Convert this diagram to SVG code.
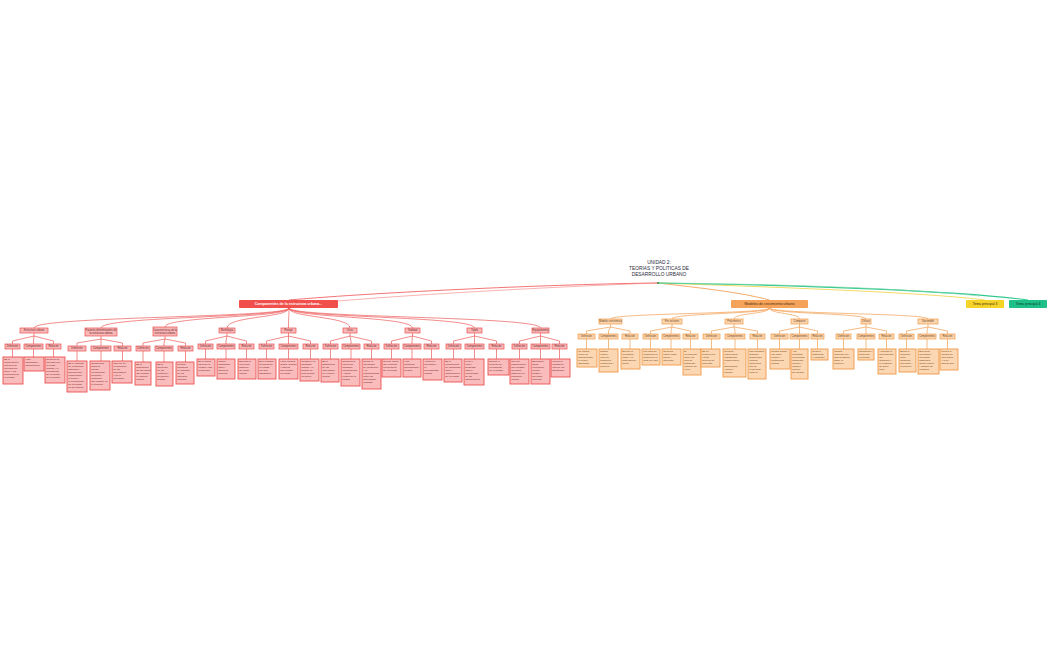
<svg xmlns="http://www.w3.org/2000/svg" width="1050" height="650" viewBox="0 0 1050 650">
<defs>
<pattern id="hr" width="2" height="2" patternUnits="userSpaceOnUse" patternTransform="rotate(45)"><rect width="2" height="2" fill="#fbc3c3"/><line x1="0" y1="0" x2="0" y2="2" stroke="#f39494" stroke-width=".6"/></pattern>
<pattern id="ho" width="2" height="2" patternUnits="userSpaceOnUse" patternTransform="rotate(45)"><rect width="2" height="2" fill="#fcdcbc"/><line x1="0" y1="0" x2="0" y2="2" stroke="#f6b878" stroke-width=".6"/></pattern>
</defs>
<style>
.rb{fill:#f9b8b8;stroke:#ec5050;stroke-width:.7}
.rl{fill:url(#hr);stroke:#ec5050;stroke-width:.9}
.ob{fill:#fcd6b0;stroke:#f09a48;stroke-width:.7}
.ol{fill:url(#ho);stroke:#f09a48;stroke-width:.9}
.rc{fill:none;stroke:#ee5a5a;stroke-width:.7}
.oc{fill:none;stroke:#f29e50;stroke-width:.7}
text{font-family:"Liberation Sans",Arial,sans-serif}
.t{font-size:2.5px;fill:#6e1c1c}
.to{font-size:2.5px;fill:#6e3c0e}
.c{text-anchor:middle;font-size:2.6px}
</style>
<rect width="1050" height="650" fill="#ffffff"/>
<g id="connectors">
<path d="M658,283 C560,284 380,292 289,300" fill="none" stroke="#f05050" stroke-width=".8"/>
<path d="M658,283 C570,286 420,294 338,301" fill="none" stroke="#f58080" stroke-width=".6"/>
<path d="M658,283 C700,288 740,292 769.5,300" fill="none" stroke="#f3a35c" stroke-width=".9"/>
<path d="M658,283 C800,288 930,293 985,300" fill="none" stroke="#f0d040" stroke-width=".8"/>
<path d="M658,283 C800,285 960,291 1028,300" fill="none" stroke="#30c890" stroke-width="1.1"/>
<path d="M658,283 C780,284 900,288 980,296" fill="none" stroke="#7fd9a8" stroke-width=".6"/>
<g class="rc">
<path d="M289,308 C289,318 34,316 34,328"/>
<path d="M289,308 C289,318 101,316 101,328"/>
<path d="M289,308 C289,318 165,316 165,327"/>
<path d="M289,308 C289,318 227,316 227,328"/>
<path d="M289,308 C289,318 288.5,316 288.5,328"/>
<path d="M289,308 C289,318 350,316 350,328"/>
<path d="M289,308 C289,318 412.5,316 412.5,328"/>
<path d="M289,308 C289,318 474.5,316 474.5,328"/>
<path d="M289,308 C289,318 540.5,316 540.5,328"/>
<path d="M34,333 V336 L12.5,341 V344 M34,336 L33.5,341 V344 M34,336 L53.5,341 V344"/>
<path d="M101,336 V339 L77,343 V346 M101,339 V346 M101,339 L122.5,343 V346"/>
<path d="M165,336 V339 L143,343 V346 M165,339 L164,343 V346 M165,339 L185.5,343 V346"/>
<path d="M227,333 V336 L205.5,341 V344 M227,336 L226,341 V344 M227,336 L246.5,341 V344"/>
<path d="M288.5,333 V336 L266.5,341 V344 M288.5,336 V344 M288.5,336 L310.5,341 V344"/>
<path d="M350,333 V336 L330.5,341 V344 M350,336 L351,341 V344 M350,336 L371.5,341 V344"/>
<path d="M412.5,333 V336 L391.5,341 V344 M412.5,336 L412,341 V344 M412.5,336 L431.5,341 V344"/>
<path d="M474.5,333 V336 L453.5,341 V344 M474.5,336 V344 M474.5,336 L496.5,341 V344"/>
<path d="M540.5,333 V336 L519.5,341 V344 M540.5,336 V344 M540.5,336 L559.5,341 V344"/>
<path d="M12.5,349 V357 M33.5,349 V357 M53.5,349 V357 M77,351 V361 M101,351 V361 M122.5,351 V361 M143,351 V362 M164,351 V362 M185.5,351 V362 M205.5,349 V359 M226,349 V359 M246.5,349 V359 M266.5,349 V359 M288.5,349 V359 M310.5,349 V359 M330.5,349 V359 M351,349 V359 M371.5,349 V359 M391.5,349 V359 M412,349 V359 M431.5,349 V359 M453.5,349 V359 M474.5,349 V359 M496.5,349 V359 M519.5,349 V359 M540.5,349 V359 M559.5,349 V359"/>
</g>
<g class="oc">
<path d="M769.5,308 C769.5,314 610.5,313 610.5,319"/>
<path d="M769.5,308 C769.5,314 672,313 672,319"/>
<path d="M769.5,308 C769.5,314 734,313 734,319"/>
<path d="M769.5,308 C769.5,314 799.5,313 799.5,319"/>
<path d="M769.5,308 C769.5,314 866,313 866,319"/>
<path d="M769.5,308 C769.5,314 928,313 928,319"/>
<path d="M610.5,324 V327 L586.5,331 V334 M610.5,327 L608.5,331 V334 M610.5,327 L630,331 V334"/>
<path d="M672,324 V327 L650.5,331 V334 M672,327 L671,331 V334 M672,327 L690.5,331 V334"/>
<path d="M734,324 V327 L711.5,331 V334 M734,327 L735,331 V334 M734,327 L757.5,331 V334"/>
<path d="M799.5,324 V327 L779.5,331 V334 M799.5,327 V334 M799.5,327 L817.5,331 V334"/>
<path d="M866,324 V327 L843.5,331 V334 M866,327 V334 M866,327 L886.5,331 V334"/>
<path d="M928,324 V327 L906.5,331 V334 M928,327 L927,331 V334 M928,327 L947.5,331 V334"/>
<path d="M586.5,339 V349 M608.5,339 V349 M630,339 V349 M650.5,339 V349 M671,339 V349 M690.5,339 V349 M711.5,339 V349 M735,339 V349 M757.5,339 V349 M779.5,339 V349 M799.5,339 V349 M817.5,339 V349 M843.5,339 V349 M866,339 V349 M886.5,339 V349 M906.5,339 V349 M927,339 V349 M947.5,339 V349"/>
</g>
</g>
<g id="root">
<text x="659" y="264" text-anchor="middle" font-size="4.8" fill="#2a2a3a">UNIDAD 2:</text>
<text x="659" y="270" text-anchor="middle" font-size="4.8" fill="#2a2a3a">TEORIAS Y POLITICAS DE</text>
<text x="659" y="276" text-anchor="middle" font-size="4.8" fill="#2a2a3a">DESARROLLO URBANO</text>
<circle cx="658" cy="283" r=".9" fill="#2a8a4a"/>
</g>
<g id="main-red"><rect x="239" y="300" width="99" height="8" rx="1" fill="#f04f4b"/><text x="288.5" y="305.2" text-anchor="middle" font-size="3.6" font-weight="bold" fill="#ffffff">Componentes de la estructura urbana...</text></g>
<g id="main-orange"><rect x="731" y="300" width="77" height="8" rx="1" fill="#f5a35a"/><text x="769.5" y="305.2" text-anchor="middle" font-size="3.6" fill="#4a2a10">Modelos de crecimiento urbano</text></g>
<g id="main-3"><rect x="966" y="300" width="38" height="8" rx="1" fill="#f5d329"/><text x="985" y="305.2" text-anchor="middle" font-size="3.4" fill="#3a3010">Tema principal 3</text></g>
<g id="main-4"><rect x="1009" y="300" width="38" height="8" rx="1" fill="#1fbf88"/><text x="1028" y="305.2" text-anchor="middle" font-size="3.4" fill="#0e3a2a">Tema principal 4</text></g>

<g id="b1"><rect class="rb" x="20" y="328" width="28" height="5"/><text class="t c" x="34" y="331.4">Estructura urbana</text></g>
<g id="b2"><rect class="rb" x="85" y="328" width="32" height="8"/><text class="t c" x="101" y="331.2">Factores determinantes de</text><text class="t c" x="101" y="334.4">la estructura urbana</text></g>
<g id="b3"><rect class="rb" x="153" y="327" width="24" height="9"/><text class="t c" x="165" y="330.8">Características de la</text><text class="t c" x="165" y="334">estructura urbana</text></g>
<g id="b4"><rect class="rb" x="219" y="328" width="16" height="5"/><text class="t c" x="227" y="331.4">Morfología</text></g>
<g id="b5"><rect class="rb" x="281" y="328" width="15" height="5"/><text class="t c" x="288.5" y="331.4">Paisaje</text></g>
<g id="b6"><rect class="rb" x="343" y="328" width="14" height="5"/><text class="t c" x="350" y="331.4">Usos</text></g>
<g id="b7"><rect class="rb" x="405" y="328" width="15" height="5"/><text class="t c" x="412.5" y="331.4">Vialidad</text></g>
<g id="b8"><rect class="rb" x="467" y="328" width="15" height="5"/><text class="t c" x="474.5" y="331.4">Tejido</text></g>
<g id="b9"><rect class="rb" x="532" y="328" width="17" height="5"/><text class="t c" x="540.5" y="331.4">Equipamiento</text></g>

<g id="b1-c"><rect class="rb" x="5" y="344" width="15" height="5"/><text class="t c" x="12.5" y="347.4">Definición</text><rect class="rb" x="24" y="344" width="19" height="5"/><text class="t c" x="33.5" y="347.4">Componentes</text><rect class="rb" x="46" y="344" width="15" height="5"/><text class="t c" x="53.5" y="347.4">Relación</text></g>
<g id="b2-c"><rect class="rb" x="68" y="346" width="18" height="5"/><text class="t c" x="77" y="349.4">Definición</text><rect class="rb" x="91" y="346" width="20" height="5"/><text class="t c" x="101" y="349.4">Componentes</text><rect class="rb" x="114" y="346" width="17" height="5"/><text class="t c" x="122.5" y="349.4">Relación</text></g>
<g id="b3-c"><rect class="rb" x="136" y="346" width="14" height="5"/><text class="t c" x="143" y="349.4">Definición</text><rect class="rb" x="155" y="346" width="18" height="5"/><text class="t c" x="164" y="349.4">Componentes</text><rect class="rb" x="178" y="346" width="15" height="5"/><text class="t c" x="185.5" y="349.4">Relación</text></g>
<g id="b4-c"><rect class="rb" x="198" y="344" width="15" height="5"/><text class="t c" x="205.5" y="347.4">Definición</text><rect class="rb" x="217" y="344" width="18" height="5"/><text class="t c" x="226" y="347.4">Componentes</text><rect class="rb" x="239" y="344" width="15" height="5"/><text class="t c" x="246.5" y="347.4">Relación</text></g>
<g id="b5-c"><rect class="rb" x="259" y="344" width="15" height="5"/><text class="t c" x="266.5" y="347.4">Definición</text><rect class="rb" x="279" y="344" width="19" height="5"/><text class="t c" x="288.5" y="347.4">Componentes</text><rect class="rb" x="303" y="344" width="15" height="5"/><text class="t c" x="310.5" y="347.4">Relación</text></g>
<g id="b6-c"><rect class="rb" x="323" y="344" width="15" height="5"/><text class="t c" x="330.5" y="347.4">Definición</text><rect class="rb" x="342" y="344" width="18" height="5"/><text class="t c" x="351" y="347.4">Componentes</text><rect class="rb" x="364" y="344" width="15" height="5"/><text class="t c" x="371.5" y="347.4">Relación</text></g>
<g id="b7-c"><rect class="rb" x="384" y="344" width="15" height="5"/><text class="t c" x="391.5" y="347.4">Definición</text><rect class="rb" x="403" y="344" width="18" height="5"/><text class="t c" x="412" y="347.4">Componentes</text><rect class="rb" x="424" y="344" width="15" height="5"/><text class="t c" x="431.5" y="347.4">Relación</text></g>
<g id="b8-c"><rect class="rb" x="446" y="344" width="15" height="5"/><text class="t c" x="453.5" y="347.4">Definición</text><rect class="rb" x="465" y="344" width="19" height="5"/><text class="t c" x="474.5" y="347.4">Componentes</text><rect class="rb" x="489" y="344" width="15" height="5"/><text class="t c" x="496.5" y="347.4">Relación</text></g>
<g id="b9-c"><rect class="rb" x="512" y="344" width="15" height="5"/><text class="t c" x="519.5" y="347.4">Definición</text><rect class="rb" x="531" y="344" width="19" height="5"/><text class="t c" x="540.5" y="347.4">Componentes</text><rect class="rb" x="552" y="344" width="15" height="5"/><text class="t c" x="559.5" y="347.4">Relación</text></g>

<g id="l1a"><rect class="rl" x="3" y="357" width="20" height="27"/><text class="t" x="4.2" y="360.3">Es la<tspan x="4.2" dy="3">organización</tspan><tspan x="4.2" dy="3">espacial de</tspan><tspan x="4.2" dy="3">los usos del</tspan><tspan x="4.2" dy="3">suelo y las</tspan><tspan x="4.2" dy="3">relaciones de</tspan><tspan x="4.2" dy="3">la ciudad.</tspan></text></g>
<g id="l1b"><rect class="rl" x="24" y="357" width="20" height="14"/><text class="t" x="25.2" y="360.3">Vías,<tspan x="25.2" dy="3">manzanas y</tspan><tspan x="25.2" dy="3">edificaciones.</tspan></text></g>
<g id="l1c"><rect class="rl" x="45" y="357" width="20" height="26"/><text class="t" x="46.2" y="360.3">Relación de<tspan x="46.2" dy="3">los usos con</tspan><tspan x="46.2" dy="3">la forma</tspan><tspan x="46.2" dy="3">urbana y el</tspan><tspan x="46.2" dy="3">crecimiento</tspan><tspan x="46.2" dy="3">de la ciudad</tspan><tspan x="46.2" dy="3">en el tiempo.</tspan></text></g>

<g id="l2a"><rect class="rl" x="67" y="361" width="20" height="31"/><text class="t" x="68.2" y="364.3">Es el conjunto<tspan x="68.2" dy="3">de elementos</tspan><tspan x="68.2" dy="3">naturales y</tspan><tspan x="68.2" dy="3">sociales que</tspan><tspan x="68.2" dy="3">condicionan</tspan><tspan x="68.2" dy="3">la forma y</tspan><tspan x="68.2" dy="3">el crecimiento</tspan><tspan x="68.2" dy="3">de la ciudad</tspan><tspan x="68.2" dy="3">en su entorno.</tspan></text></g>
<g id="l2b"><rect class="rl" x="90" y="361" width="20" height="29"/><text class="t" x="91.2" y="364.3">Comprende<tspan x="91.2" dy="3">factores</tspan><tspan x="91.2" dy="3">físicos,</tspan><tspan x="91.2" dy="3">económicos,</tspan><tspan x="91.2" dy="3">políticos y</tspan><tspan x="91.2" dy="3">culturales</tspan><tspan x="91.2" dy="3">que inciden en</tspan><tspan x="91.2" dy="3">el territorio.</tspan></text></g>
<g id="l2c"><rect class="rl" x="112" y="361" width="20" height="22"/><text class="t" x="113.2" y="364.3">Influyen en<tspan x="113.2" dy="3">la ubicación</tspan><tspan x="113.2" dy="3">de las</tspan><tspan x="113.2" dy="3">actividades</tspan><tspan x="113.2" dy="3">y en la</tspan><tspan x="113.2" dy="3">movilidad.</tspan></text></g>

<g id="l3a"><rect class="rl" x="135" y="362" width="16" height="23"/><text class="t" x="136.2" y="365.3">Es la<tspan x="136.2" dy="3">disposición</tspan><tspan x="136.2" dy="3">de las partes</tspan><tspan x="136.2" dy="3">que forman</tspan><tspan x="136.2" dy="3">el espacio</tspan><tspan x="136.2" dy="3">urbano.</tspan></text></g>
<g id="l3b"><rect class="rl" x="156" y="362" width="17" height="24"/><text class="t" x="157.2" y="365.3">Es la<tspan x="157.2" dy="3">ubicación</tspan><tspan x="157.2" dy="3">de los</tspan><tspan x="157.2" dy="3">sectores y</tspan><tspan x="157.2" dy="3">su función</tspan><tspan x="157.2" dy="3">urbana.</tspan></text></g>
<g id="l3c"><rect class="rl" x="176" y="362" width="18" height="22"/><text class="t" x="177.2" y="365.3">Permite<tspan x="177.2" dy="3">identificar</tspan><tspan x="177.2" dy="3">la jerarquía</tspan><tspan x="177.2" dy="3">de los</tspan><tspan x="177.2" dy="3">espacios</tspan><tspan x="177.2" dy="3">urbanos.</tspan></text></g>

<g id="l4a"><rect class="rl" x="197" y="359" width="18" height="17"/><text class="t" x="198.2" y="362.3">Es la forma<tspan x="198.2" dy="3">física de la</tspan><tspan x="198.2" dy="3">ciudad y sus</tspan><tspan x="198.2" dy="3">elementos.</tspan></text></g>
<g id="l4b"><rect class="rl" x="217" y="359" width="18" height="20"/><text class="t" x="218.2" y="362.3">Trama,<tspan x="218.2" dy="3">manzanas,</tspan><tspan x="218.2" dy="3">lotes y</tspan><tspan x="218.2" dy="3">espacios</tspan><tspan x="218.2" dy="3">públicos.</tspan></text></g>
<g id="l4c"><rect class="rl" x="238" y="359" width="18" height="20"/><text class="t" x="239.2" y="362.3">Expresa la<tspan x="239.2" dy="3">evolución</tspan><tspan x="239.2" dy="3">histórica</tspan><tspan x="239.2" dy="3">del tejido</tspan><tspan x="239.2" dy="3">urbano.</tspan></text></g>

<g id="l5a"><rect class="rl" x="258" y="359" width="18" height="20"/><text class="t" x="259.2" y="362.3">Es la imagen<tspan x="259.2" dy="3">percibida de</tspan><tspan x="259.2" dy="3">la ciudad</tspan><tspan x="259.2" dy="3">por sus</tspan><tspan x="259.2" dy="3">habitantes.</tspan></text></g>
<g id="l5b"><rect class="rl" x="279" y="359" width="19" height="20"/><text class="t" x="280.2" y="362.3">Hitos, bordes,<tspan x="280.2" dy="3">nodos, sendas</tspan><tspan x="280.2" dy="3">y barrios</tspan><tspan x="280.2" dy="3">que forman</tspan><tspan x="280.2" dy="3">la ciudad.</tspan></text></g>
<g id="l5c"><rect class="rl" x="300" y="359" width="19" height="22"/><text class="t" x="301.2" y="362.3">Construye la<tspan x="301.2" dy="3">identidad</tspan><tspan x="301.2" dy="3">urbana y el</tspan><tspan x="301.2" dy="3">sentido de</tspan><tspan x="301.2" dy="3">pertenencia</tspan><tspan x="301.2" dy="3">colectiva.</tspan></text></g>

<g id="l6a"><rect class="rl" x="321" y="359" width="18" height="23"/><text class="t" x="322.2" y="362.3">Es la<tspan x="322.2" dy="3">distribución</tspan><tspan x="322.2" dy="3">de las</tspan><tspan x="322.2" dy="3">actividades</tspan><tspan x="322.2" dy="3">en el suelo</tspan><tspan x="322.2" dy="3">urbano.</tspan></text></g>
<g id="l6b"><rect class="rl" x="341" y="359" width="19" height="27"/><text class="t" x="342.2" y="362.3">Residencial,<tspan x="342.2" dy="3">comercial,</tspan><tspan x="342.2" dy="3">industrial,</tspan><tspan x="342.2" dy="3">equipamiento</tspan><tspan x="342.2" dy="3">y áreas</tspan><tspan x="342.2" dy="3">verdes de la</tspan><tspan x="342.2" dy="3">ciudad.</tspan></text></g>
<g id="l6c"><rect class="rl" x="362" y="359" width="19" height="30"/><text class="t" x="363.2" y="362.3">Define la<tspan x="363.2" dy="3">intensidad</tspan><tspan x="363.2" dy="3">de ocupación</tspan><tspan x="363.2" dy="3">y la</tspan><tspan x="363.2" dy="3">compatibilidad</tspan><tspan x="363.2" dy="3">entre las</tspan><tspan x="363.2" dy="3">actividades</tspan><tspan x="363.2" dy="3">urbanas.</tspan></text></g>

<g id="l7a"><rect class="rl" x="382" y="359" width="19" height="18"/><text class="t" x="383.2" y="362.3">Red de calles<tspan x="383.2" dy="3">que conecta</tspan><tspan x="383.2" dy="3">los sectores</tspan><tspan x="383.2" dy="3">de la ciudad.</tspan></text></g>
<g id="l7b"><rect class="rl" x="403" y="359" width="18" height="18"/><text class="t" x="404.2" y="362.3">Vías<tspan x="404.2" dy="3">primarias,</tspan><tspan x="404.2" dy="3">secundarias y</tspan><tspan x="404.2" dy="3">locales.</tspan></text></g>
<g id="l7c"><rect class="rl" x="423" y="359" width="19" height="21"/><text class="t" x="424.2" y="362.3">Articula la<tspan x="424.2" dy="3">movilidad y</tspan><tspan x="424.2" dy="3">la</tspan><tspan x="424.2" dy="3">accesibilidad</tspan><tspan x="424.2" dy="3">urbana.</tspan></text></g>

<g id="l8a"><rect class="rl" x="444" y="359" width="18" height="23"/><text class="t" x="445.2" y="362.3">Es la<tspan x="445.2" dy="3">combinación</tspan><tspan x="445.2" dy="3">de manzanas,</tspan><tspan x="445.2" dy="3">lotes y</tspan><tspan x="445.2" dy="3">edificaciones</tspan><tspan x="445.2" dy="3">de la ciudad.</tspan></text></g>
<g id="l8b"><rect class="rl" x="464" y="359" width="20" height="26"/><text class="t" x="465.2" y="362.3">Lleno y<tspan x="465.2" dy="3">vacío,</tspan><tspan x="465.2" dy="3">densidad,</tspan><tspan x="465.2" dy="3">altura y</tspan><tspan x="465.2" dy="3">continuidad</tspan><tspan x="465.2" dy="3">de las</tspan><tspan x="465.2" dy="3">edificaciones.</tspan></text></g>
<g id="l8c"><rect class="rl" x="488" y="359" width="21" height="16"/><text class="t" x="489.2" y="362.3">Refleja el<tspan x="489.2" dy="3">proceso de</tspan><tspan x="489.2" dy="3">crecimiento</tspan><tspan x="489.2" dy="3">de la ciudad.</tspan></text></g>

<g id="l9a"><rect class="rl" x="510" y="359" width="19" height="25"/><text class="t" x="511.2" y="362.3">Son las<tspan x="511.2" dy="3">instalaciones</tspan><tspan x="511.2" dy="3">que prestan</tspan><tspan x="511.2" dy="3">servicios</tspan><tspan x="511.2" dy="3">básicos a la</tspan><tspan x="511.2" dy="3">población</tspan><tspan x="511.2" dy="3">urbana.</tspan></text></g>
<g id="l9b"><rect class="rl" x="531" y="359" width="19" height="25"/><text class="t" x="532.2" y="362.3">Educación,<tspan x="532.2" dy="3">salud,</tspan><tspan x="532.2" dy="3">recreación,</tspan><tspan x="532.2" dy="3">cultura,</tspan><tspan x="532.2" dy="3">abasto y</tspan><tspan x="532.2" dy="3">servicios</tspan><tspan x="532.2" dy="3">públicos.</tspan></text></g>
<g id="l9c"><rect class="rl" x="551" y="359" width="19" height="18"/><text class="t" x="552.2" y="362.3">Mejora la<tspan x="552.2" dy="3">calidad de</tspan><tspan x="552.2" dy="3">vida de los</tspan><tspan x="552.2" dy="3">habitantes.</tspan></text></g>

<g id="r1"><rect class="ob" x="599" y="319" width="23" height="5"/><text class="to c" x="610.5" y="322.4">Modelo concéntrico</text></g>
<g id="r2"><rect class="ob" x="662" y="319" width="20" height="5"/><text class="to c" x="672" y="322.4">Por sectores</text></g>
<g id="r3"><rect class="ob" x="725" y="319" width="18" height="5"/><text class="to c" x="734" y="322.4">Policéntrico</text></g>
<g id="r4"><rect class="ob" x="791" y="319" width="17" height="5"/><text class="to c" x="799.5" y="322.4">Compacto</text></g>
<g id="r5"><rect class="ob" x="861" y="319" width="10" height="5"/><text class="to c" x="866" y="322.4">Difuso</text></g>
<g id="r6"><rect class="ob" x="918" y="319" width="20" height="5"/><text class="to c" x="928" y="322.4">Sostenible</text></g>

<g id="r1-c"><rect class="ob" x="578" y="334" width="17" height="5"/><text class="to c" x="586.5" y="337.4">Definición</text><rect class="ob" x="599" y="334" width="19" height="5"/><text class="to c" x="608.5" y="337.4">Componentes</text><rect class="ob" x="622" y="334" width="16" height="5"/><text class="to c" x="630" y="337.4">Relación</text></g>
<g id="r2-c"><rect class="ob" x="643" y="334" width="15" height="5"/><text class="to c" x="650.5" y="337.4">Definición</text><rect class="ob" x="662" y="334" width="18" height="5"/><text class="to c" x="671" y="337.4">Componentes</text><rect class="ob" x="683" y="334" width="15" height="5"/><text class="to c" x="690.5" y="337.4">Relación</text></g>
<g id="r3-c"><rect class="ob" x="703" y="334" width="17" height="5"/><text class="to c" x="711.5" y="337.4">Definición</text><rect class="ob" x="725" y="334" width="20" height="5"/><text class="to c" x="735" y="337.4">Componentes</text><rect class="ob" x="750" y="334" width="15" height="5"/><text class="to c" x="757.5" y="337.4">Relación</text></g>
<g id="r4-c"><rect class="ob" x="771" y="334" width="17" height="5"/><text class="to c" x="779.5" y="337.4">Definición</text><rect class="ob" x="790" y="334" width="19" height="5"/><text class="to c" x="799.5" y="337.4">Componentes</text><rect class="ob" x="811" y="334" width="13" height="5"/><text class="to c" x="817.5" y="337.4">Relación</text></g>
<g id="r5-c"><rect class="ob" x="836" y="334" width="15" height="5"/><text class="to c" x="843.5" y="337.4">Definición</text><rect class="ob" x="857" y="334" width="18" height="5"/><text class="to c" x="866" y="337.4">Componentes</text><rect class="ob" x="879" y="334" width="15" height="5"/><text class="to c" x="886.5" y="337.4">Relación</text></g>
<g id="r6-c"><rect class="ob" x="899" y="334" width="15" height="5"/><text class="to c" x="906.5" y="337.4">Definición</text><rect class="ob" x="918" y="334" width="18" height="5"/><text class="to c" x="927" y="337.4">Componentes</text><rect class="ob" x="940" y="334" width="15" height="5"/><text class="to c" x="947.5" y="337.4">Relación</text></g>

<g id="m1a"><rect class="ol" x="577" y="349" width="20" height="18"/><text class="to" x="578.2" y="352.3">La ciudad<tspan x="578.2" dy="3">crece en</tspan><tspan x="578.2" dy="3">anillos desde</tspan><tspan x="578.2" dy="3">el centro</tspan><tspan x="578.2" dy="3">(Burgess).</tspan></text></g>
<g id="m1b"><rect class="ol" x="599" y="349" width="19" height="23"/><text class="to" x="600.2" y="352.3">Distrito<tspan x="600.2" dy="3">central,</tspan><tspan x="600.2" dy="3">zona de</tspan><tspan x="600.2" dy="3">transición,</tspan><tspan x="600.2" dy="3">residencial y</tspan><tspan x="600.2" dy="3">periferia.</tspan></text></g>
<g id="m1c"><rect class="ol" x="621" y="349" width="19" height="20"/><text class="to" x="622.2" y="352.3">Explica la<tspan x="622.2" dy="3">expansión</tspan><tspan x="622.2" dy="3">radial y la</tspan><tspan x="622.2" dy="3">segregación</tspan><tspan x="622.2" dy="3">social.</tspan></text></g>

<g id="m2a"><rect class="ol" x="642" y="349" width="18" height="16"/><text class="to" x="643.2" y="352.3">Los usos se<tspan x="643.2" dy="3">organizan en</tspan><tspan x="643.2" dy="3">sectores a lo</tspan><tspan x="643.2" dy="3">largo de vías.</tspan></text></g>
<g id="m2b"><rect class="ol" x="662" y="349" width="19" height="16"/><text class="to" x="663.2" y="352.3">Sectores<tspan x="663.2" dy="3">según clase</tspan><tspan x="663.2" dy="3">social y</tspan><tspan x="663.2" dy="3">actividad.</tspan></text></g>
<g id="m2c"><rect class="ol" x="683" y="349" width="18" height="26"/><text class="to" x="684.2" y="352.3">El<tspan x="684.2" dy="3">crecimiento</tspan><tspan x="684.2" dy="3">sigue los</tspan><tspan x="684.2" dy="3">ejes de</tspan><tspan x="684.2" dy="3">transporte</tspan><tspan x="684.2" dy="3">(modelo de</tspan><tspan x="684.2" dy="3">Hoyt).</tspan></text></g>

<g id="m3a"><rect class="ol" x="701" y="349" width="19" height="18"/><text class="to" x="702.2" y="352.3">Es un<tspan x="702.2" dy="3">modelo con</tspan><tspan x="702.2" dy="3">varios</tspan><tspan x="702.2" dy="3">núcleos de</tspan><tspan x="702.2" dy="3">actividad.</tspan></text></g>
<g id="m3b"><rect class="ol" x="723" y="349" width="23" height="28"/><text class="to" x="724.2" y="352.3">Núcleos<tspan x="724.2" dy="3">comerciales,</tspan><tspan x="724.2" dy="3">industriales,</tspan><tspan x="724.2" dy="3">residenciales</tspan><tspan x="724.2" dy="3">y</tspan><tspan x="724.2" dy="3">suburbanos</tspan><tspan x="724.2" dy="3">(Harris y</tspan><tspan x="724.2" dy="3">Ullman).</tspan></text></g>
<g id="m3c"><rect class="ol" x="748" y="349" width="18" height="30"/><text class="to" x="749.2" y="352.3">Las ciudades<tspan x="749.2" dy="3">grandes</tspan><tspan x="749.2" dy="3">desarrollan</tspan><tspan x="749.2" dy="3">centros</tspan><tspan x="749.2" dy="3">especiales</tspan><tspan x="749.2" dy="3">que se</tspan><tspan x="749.2" dy="3">relacionan</tspan><tspan x="749.2" dy="3">entre sí.</tspan></text></g>

<g id="m4a"><rect class="ol" x="770" y="349" width="20" height="20"/><text class="to" x="771.2" y="352.3">Ciudad densa<tspan x="771.2" dy="3">con usos</tspan><tspan x="771.2" dy="3">mixtos y</tspan><tspan x="771.2" dy="3">continuidad</tspan><tspan x="771.2" dy="3">urbana.</tspan></text></g>
<g id="m4b"><rect class="ol" x="791" y="349" width="17" height="30"/><text class="to" x="792.2" y="352.3">Alta<tspan x="792.2" dy="3">densidad,</tspan><tspan x="792.2" dy="3">proximidad,</tspan><tspan x="792.2" dy="3">transporte</tspan><tspan x="792.2" dy="3">público y</tspan><tspan x="792.2" dy="3">espacio</tspan><tspan x="792.2" dy="3">público</tspan><tspan x="792.2" dy="3">de calidad.</tspan></text></g>
<g id="m4c"><rect class="ol" x="811" y="349" width="17" height="11"/><text class="to" x="812.2" y="352.3">Reduce<tspan x="812.2" dy="3">distancias</tspan><tspan x="812.2" dy="3">y consumo.</tspan></text></g>

<g id="m5a"><rect class="ol" x="833" y="349" width="21" height="20"/><text class="to" x="834.2" y="352.3">Ciudad<tspan x="834.2" dy="3">dispersa con</tspan><tspan x="834.2" dy="3">baja densidad</tspan><tspan x="834.2" dy="3">sobre el</tspan><tspan x="834.2" dy="3">territorio.</tspan></text></g>
<g id="m5b"><rect class="ol" x="858" y="349" width="16" height="11"/><text class="to" x="859.2" y="352.3">Suburbios y<tspan x="859.2" dy="3">periferias</tspan><tspan x="859.2" dy="3">extensas.</tspan></text></g>
<g id="m5c"><rect class="ol" x="878" y="349" width="18" height="25"/><text class="to" x="879.2" y="352.3">Aumenta la<tspan x="879.2" dy="3">dependencia</tspan><tspan x="879.2" dy="3">del</tspan><tspan x="879.2" dy="3">automóvil y</tspan><tspan x="879.2" dy="3">el consumo</tspan><tspan x="879.2" dy="3">de suelo</tspan><tspan x="879.2" dy="3">rural.</tspan></text></g>

<g id="m6a"><rect class="ol" x="899" y="349" width="17" height="23"/><text class="to" x="900.2" y="352.3">Busca el<tspan x="900.2" dy="3">equilibrio</tspan><tspan x="900.2" dy="3">entre</tspan><tspan x="900.2" dy="3">ambiente,</tspan><tspan x="900.2" dy="3">sociedad y</tspan><tspan x="900.2" dy="3">economía.</tspan></text></g>
<g id="m6b"><rect class="ol" x="918" y="349" width="21" height="25"/><text class="to" x="919.2" y="352.3">Eficiencia<tspan x="919.2" dy="3">energética,</tspan><tspan x="919.2" dy="3">movilidad</tspan><tspan x="919.2" dy="3">sostenible,</tspan><tspan x="919.2" dy="3">áreas verdes</tspan><tspan x="919.2" dy="3">y gestión de</tspan><tspan x="919.2" dy="3">residuos.</tspan></text></g>
<g id="m6c"><rect class="ol" x="940" y="349" width="18" height="21"/><text class="to" x="941.2" y="352.3">Mejora la<tspan x="941.2" dy="3">calidad de</tspan><tspan x="941.2" dy="3">vida actual</tspan><tspan x="941.2" dy="3">y la de</tspan><tspan x="941.2" dy="3">futuras gen.</tspan></text></g>
</svg>
